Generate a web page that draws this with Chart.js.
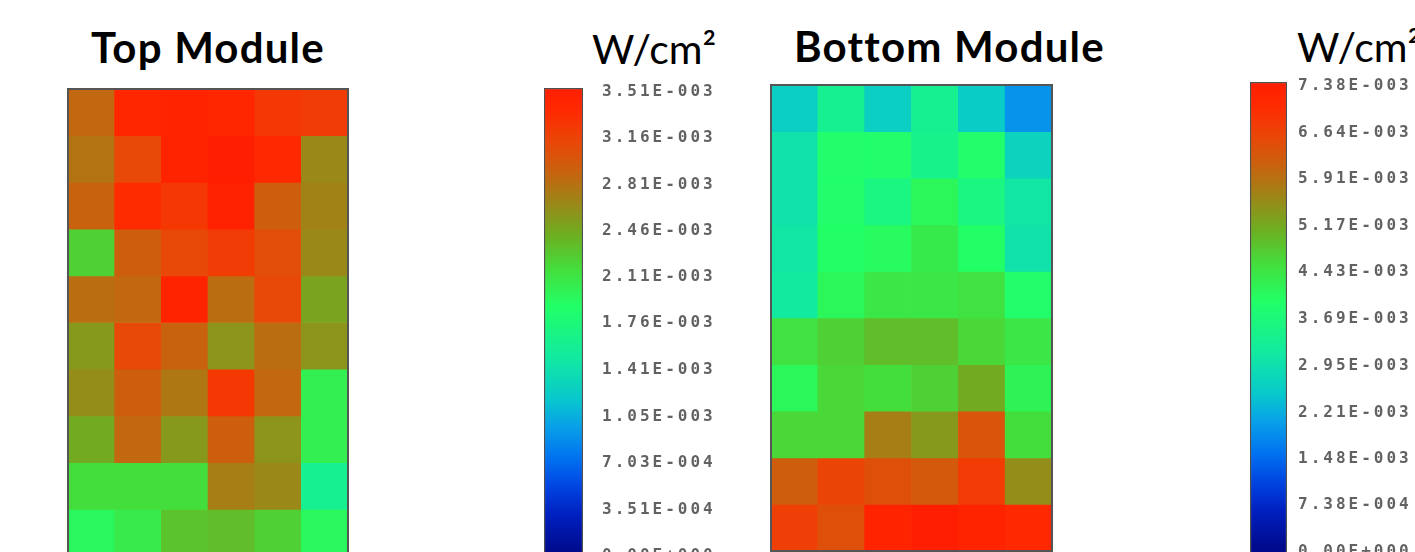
<!DOCTYPE html>
<html>
<head>
<meta charset="utf-8">
<script src="https://cdn.jsdelivr.net/npm/chart.js@4.4.1/dist/chart.umd.min.js"></script>
<style>
  body { margin: 0; width: 1415px; height: 552px; overflow: hidden; background: #fff; position: relative; }
  canvas { position: absolute; }
  .title { position: absolute; font-family: Lato, sans-serif; font-weight: bold; font-size: 42px; line-height: 42px; letter-spacing: 1.2px; color: #000; white-space: nowrap; }
  .unit { position: absolute; font-family: Lato, sans-serif; font-size: 41px; line-height: 41px; color: #000; white-space: nowrap; }
</style>
</head>
<body>
<div class="title" style="left:91px;top:26px">Top Module</div>
<div class="title" style="left:794px;top:25px">Bottom Module</div>
<div class="unit" style="left:592px;top:28px">W/cm²</div>
<div class="unit" style="left:1297px;top:26px">W/cm²</div>

<canvas id="topMap" width="282" height="469" style="left:67px;top:88px"></canvas>
<canvas id="topBar" width="190" height="492" style="left:543px;top:70px"></canvas>
<canvas id="bottomMap" width="283" height="468" style="left:770px;top:84px"></canvas>
<canvas id="bottomBar" width="188" height="496" style="left:1249px;top:64px"></canvas>

<script>
// grid layout: 6 columns x 10 rows, rows listed top to bottom
var columns = ["1", "2", "3", "4", "5", "6"];
var rows = ["1", "2", "3", "4", "5", "6", "7", "8", "9", "10"];

// heat flux per cell, W/cm2
var topValues = [
  [2.84e-3, 3.40e-3, 3.44e-3, 3.40e-3, 3.23e-3, 3.19e-3],
  [2.77e-3, 3.09e-3, 3.44e-3, 3.51e-3, 3.37e-3, 2.63e-3],
  [2.88e-3, 3.33e-3, 3.23e-3, 3.47e-3, 2.91e-3, 2.67e-3],
  [2.21e-3, 2.91e-3, 3.09e-3, 3.19e-3, 3.05e-3, 2.63e-3],
  [2.81e-3, 2.84e-3, 3.44e-3, 2.81e-3, 3.09e-3, 2.46e-3],
  [2.53e-3, 3.09e-3, 2.88e-3, 2.56e-3, 2.81e-3, 2.56e-3],
  [2.60e-3, 2.91e-3, 2.74e-3, 3.23e-3, 2.84e-3, 2.00e-3],
  [2.42e-3, 2.84e-3, 2.53e-3, 2.91e-3, 2.56e-3, 2.00e-3],
  [2.14e-3, 2.14e-3, 2.14e-3, 2.70e-3, 2.63e-3, 1.58e-3],
  [1.93e-3, 2.04e-3, 2.28e-3, 2.32e-3, 2.21e-3, 1.93e-3]
];
var bottomValues = [
  [2.58e-3, 3.32e-3, 2.58e-3, 3.32e-3, 2.51e-3, 1.85e-3],
  [2.95e-3, 3.84e-3, 3.84e-3, 3.39e-3, 3.84e-3, 2.66e-3],
  [2.95e-3, 3.84e-3, 3.54e-3, 4.06e-3, 3.54e-3, 3.03e-3],
  [3.03e-3, 3.91e-3, 3.99e-3, 4.28e-3, 3.91e-3, 2.95e-3],
  [3.10e-3, 4.06e-3, 4.35e-3, 4.35e-3, 4.43e-3, 3.84e-3],
  [4.43e-3, 4.65e-3, 4.87e-3, 4.87e-3, 4.58e-3, 4.35e-3],
  [4.06e-3, 4.58e-3, 4.50e-3, 4.65e-3, 5.09e-3, 4.13e-3],
  [4.58e-3, 4.58e-3, 5.68e-3, 5.31e-3, 6.27e-3, 4.50e-3],
  [6.13e-3, 6.57e-3, 6.35e-3, 6.20e-3, 6.72e-3, 5.46e-3],
  [6.64e-3, 6.35e-3, 7.23e-3, 7.38e-3, 7.23e-3, 7.08e-3]
];

// colour bar tick labels, top to bottom
var topTickLabels = ["3.51E-003", "3.16E-003", "2.81E-003", "2.46E-003", "2.11E-003", "1.76E-003",
  "1.41E-003", "1.05E-003", "7.03E-004", "3.51E-004", "0.00E+000"];
var bottomTickLabels = ["7.38E-003", "6.64E-003", "5.91E-003", "5.17E-003", "4.43E-003", "3.69E-003",
  "2.95E-003", "2.21E-003", "1.48E-003", "7.38E-004", "0.00E+000"];
var topTicks = topTickLabels.map(Number);
var bottomTicks = bottomTickLabels.map(Number);

// colour map: fraction of full scale -> colour
var colorStops = [
  [0.00, [0, 10, 140]],
  [0.08, [0, 32, 192]],
  [0.14, [0, 68, 224]],
  [0.20, [0, 112, 240]],
  [0.27, [8, 160, 232]],
  [0.33, [8, 200, 204]],
  [0.42, [18, 234, 160]],
  [0.53, [34, 255, 102]],
  [0.61, [68, 222, 60]],
  [0.68, [108, 176, 34]],
  [0.75, [154, 136, 24]],
  [0.82, [200, 98, 14]],
  [0.88, [232, 72, 8]],
  [0.95, [255, 42, 0]],
  [1.00, [255, 30, 0]]
];

function colorFor(f) {
  f = Math.max(0, Math.min(1, f));
  for (var i = 1; i < colorStops.length; i++) {
    var a = colorStops[i - 1], b = colorStops[i];
    if (f <= b[0]) {
      var t = (f - a[0]) / (b[0] - a[0]);
      var c = a[1].map(function (v, k) { return Math.round(v + (b[1][k] - v) * t); });
      return "rgb(" + c.join(",") + ")";
    }
  }
  return "rgb(255,30,0)";
}

var frame = {
  id: "frame",
  afterDraw: function (chart) {
    var a = chart.chartArea;
    var ctx = chart.ctx;
    ctx.save();
    ctx.strokeStyle = "#555555";
    ctx.lineWidth = 2;
    ctx.strokeRect(a.left, a.top, a.right - a.left, a.bottom - a.top);
    ctx.restore();
  }
};

function heatmap(id, values, maxValue) {
  var datasets = values.map(function (row, r) {
    var lo = values.length - r - 1;
    return {
      label: rows[r],
      data: row.map(function () { return [lo, lo + 1]; }),
      backgroundColor: row.map(function (v) { return colorFor(v / maxValue); }),
      borderWidth: 0,
      barPercentage: 1,
      categoryPercentage: 1,
      grouped: false
    };
  });
  new Chart(document.getElementById(id), {
    type: "bar",
    data: { labels: columns, datasets: datasets },
    options: {
      responsive: false,
      animation: false,
      devicePixelRatio: 1,
      layout: { padding: 1 },
      plugins: { legend: { display: false }, tooltip: { enabled: false } },
      scales: {
        x: { display: false },
        y: { display: false, min: 0, max: rows.length }
      }
    },
    plugins: [frame]
  });
}

var spacing = {
  id: "spacing",
  beforeDraw: function (chart) { chart.ctx.letterSpacing = "3px"; }
};

function colorbar(id, maxValue, ticks, labels, gap, floor) {
  new Chart(document.getElementById(id), {
    type: "bar",
    data: {
      labels: ["W/cm²"],
      datasets: [{
        data: [[floor * maxValue, maxValue]],
        backgroundColor: function (c) {
          var chart = c.chart;
          if (!chart.chartArea) return null;
          var y = chart.scales.y;
          var g = chart.ctx.createLinearGradient(0, y.getPixelForValue(0), 0, y.getPixelForValue(maxValue));
          colorStops.forEach(function (s) { g.addColorStop(s[0], "rgb(" + s[1].join(",") + ")"); });
          return g;
        },
        borderColor: "#505050",
        borderWidth: 1.5,
        borderSkipped: false,
        barPercentage: 1,
        categoryPercentage: 1
      }]
    },
    options: {
      responsive: false,
      animation: false,
      devicePixelRatio: 1,
      layout: { padding: { top: 18, left: 1 } },
      plugins: { legend: { display: false }, tooltip: { enabled: false } },
      scales: {
        x: { display: false },
        y: {
          position: "right",
          min: floor * maxValue,
          max: maxValue,
          grid: { display: false, drawTicks: false },
          border: { display: false },
          afterBuildTicks: function (axis) {
            axis.ticks = ticks.map(function (v) { return { value: v }; });
          },
          afterFit: function (axis) {
            axis.width = 150;
            axis.paddingTop = 0;
            axis.paddingBottom = 0;
          },
          ticks: {
            autoSkip: false,
            padding: gap,
            labelOffset: 4,
            color: "#626262",
            font: { family: "DejaVu Sans Mono", size: 16, weight: "bold" },
            callback: function (v, i) { return labels[i]; }
          }
        }
      }
    },
    plugins: [spacing]
  });
}

heatmap("topMap", topValues, topTicks[0]);
heatmap("bottomMap", bottomValues, bottomTicks[0]);
colorbar("topBar", topTicks[0], topTicks, topTickLabels, 19, -0.022);
colorbar("bottomBar", bottomTicks[0], bottomTicks, bottomTickLabels, 11, -0.026);
</script>
</body>
</html>
